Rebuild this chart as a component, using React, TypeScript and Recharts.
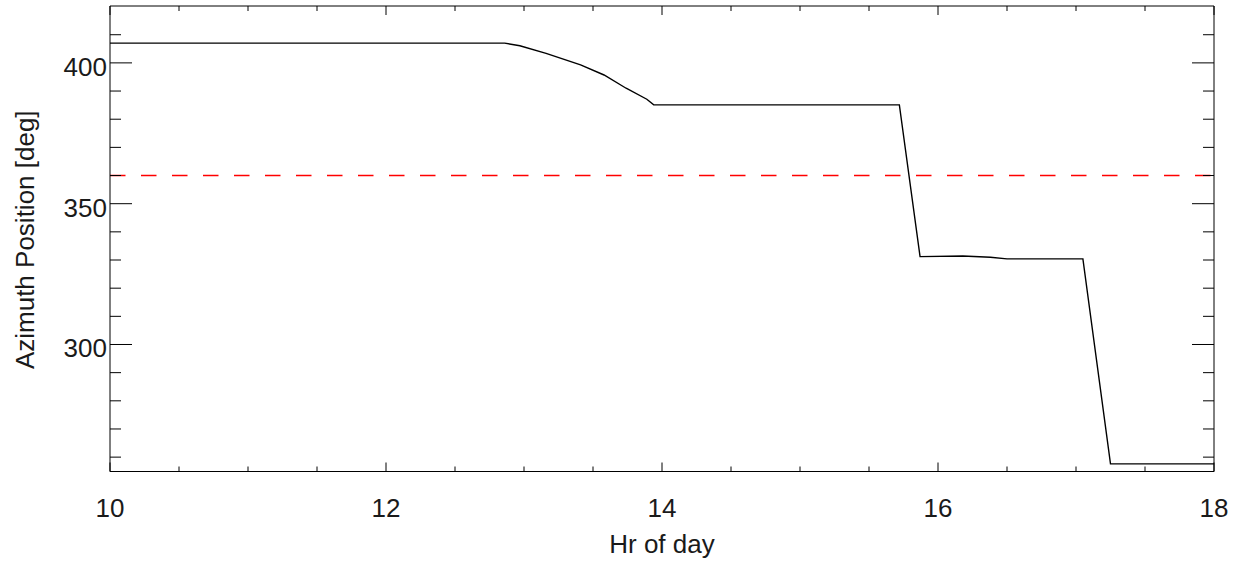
import { LineChart, Line, XAxis, YAxis, ReferenceLine, Label } from 'recharts'

// values
const hours = [10, 12.86, 12.97, 13.16, 13.41, 13.58, 13.74, 13.89, 13.94, 15.72, 15.87, 16.18, 16.38, 16.5, 17.05, 17.25, 18]
const azimuth = [407.0, 407.0, 406.1, 403.4, 399.3, 395.7, 391.0, 387.1, 385.1, 385.1, 331.2, 331.4, 331.0, 330.4, 330.4, 257.6, 257.6]

const xTicks = [10, 10.5, 11, 11.5, 12, 12.5, 13, 13.5, 14, 14.5, 15, 15.5, 16, 16.5, 17, 17.5, 18]
const xMajor = [10, 12, 14, 16, 18]
const yTicks = [260, 270, 280, 290, 300, 310, 320, 330, 340, 350, 360, 370, 380, 390, 400, 410]
const yMajor = [300, 350, 400]
const threshold = 360

const xDomain: [number, number] = [10, 18]
const yDomain: [number, number] = [254.9, 420.2]

const W = 1246
const H = 563
const FONT = '"Liberation Sans", Arial, Helvetica, sans-serif'
const INK = '#1a1a1a'

// IDL-style inward ticks: y ticks ~2% of plot width, x ticks ~2% of plot height
const Y_MAJ = 22
const Y_MIN = 11
const X_MAJ = 9
const X_MIN = 5

const BottomTick = (props: any) => {
  const { x, y, payload } = props
  const major = xMajor.includes(payload.value)
  return (
    <g>
      <line x1={x} x2={x} y1={y} y2={y - (major ? X_MAJ : X_MIN)} stroke="#000" />
      {major && (
        <text x={x} y={y + 45.2} textAnchor="middle" fontSize={26} fontFamily={FONT} fill={INK}>
          {payload.value}
        </text>
      )}
    </g>
  )
}

const TopTick = (props: any) => {
  const { x, y, payload } = props
  const major = xMajor.includes(payload.value)
  return <line x1={x} x2={x} y1={y} y2={y + (major ? X_MAJ : X_MIN)} stroke="#000" />
}

const LeftTick = (props: any) => {
  const { x, y, payload } = props
  const major = yMajor.includes(payload.value)
  return (
    <g>
      <line x1={x} x2={x + (major ? Y_MAJ : Y_MIN)} y1={y} y2={y} stroke="#000" />
      {major && (
        <text x={x - 3} y={y + 13} textAnchor="end" fontSize={26} fontFamily={FONT} fill={INK}>
          {payload.value}
        </text>
      )}
    </g>
  )
}

const RightTick = (props: any) => {
  const { x, y, payload } = props
  const major = yMajor.includes(payload.value)
  return <line x1={x} x2={x - (major ? Y_MAJ : Y_MIN)} y1={y} y2={y} stroke="#000" />
}

const XTitle = (props: any) => {
  const vb = props.viewBox || {}
  return (
    <text x={vb.x + vb.width / 2} y={vb.y + 81.5} textAnchor="middle" fontSize={26} fontFamily={FONT} fill={INK}>
      Hr of day
    </text>
  )
}

const YTitle = (props: any) => {
  const vb = props.viewBox || {}
  const cx = vb.x + 34
  const cy = vb.y + vb.height / 2 + 1
  return (
    <text transform={`translate(${cx},${cy}) rotate(-90)`} textAnchor="middle" fontSize={26} fontFamily={FONT} fill={INK}>
      Azimuth Position [deg]
    </text>
  )
}

export default function App() {
  const data = hours.map((h, i) => ({ h, v: azimuth[i] }))

  return (
    <div style={{ width: W, height: H }}>
      <style>{'body{margin:0}'}</style>
      <LineChart width={W} height={H} data={data} margin={{ top: 0, right: 0, left: 0, bottom: 0 }}>
        <XAxis xAxisId="b" dataKey="h" type="number" domain={xDomain} allowDataOverflow ticks={xTicks} interval={0}
          tickLine={false} tickSize={0} tickMargin={0} height={91.5} axisLine={{ stroke: '#000' }} tick={BottomTick}>
          <Label content={XTitle} />
        </XAxis>
        <XAxis xAxisId="t" orientation="top" dataKey="h" type="number" domain={xDomain} allowDataOverflow ticks={xTicks} interval={0}
          tickLine={false} tickSize={0} tickMargin={0} height={6} axisLine={{ stroke: '#000' }} tick={TopTick} />

        <YAxis yAxisId="l" type="number" domain={yDomain} allowDataOverflow ticks={yTicks} interval={0}
          tickLine={false} tickSize={0} tickMargin={0} width={110} axisLine={{ stroke: '#000' }} tick={LeftTick}>
          <Label content={YTitle} />
        </YAxis>
        <YAxis yAxisId="r" orientation="right" type="number" domain={yDomain} allowDataOverflow ticks={yTicks} interval={0}
          tickLine={false} tickSize={0} tickMargin={0} width={32} axisLine={{ stroke: '#000' }} tick={RightTick} />

        <ReferenceLine xAxisId="b" yAxisId="l" y={threshold} stroke="#ff0000" strokeWidth={1.6} strokeDasharray="15.5 15.5" />

        <Line xAxisId="b" yAxisId="l" dataKey="v" type="linear" stroke="#000" strokeWidth={1.4}
          dot={false} activeDot={false} isAnimationActive={false} />
      </LineChart>
    </div>
  )
}
